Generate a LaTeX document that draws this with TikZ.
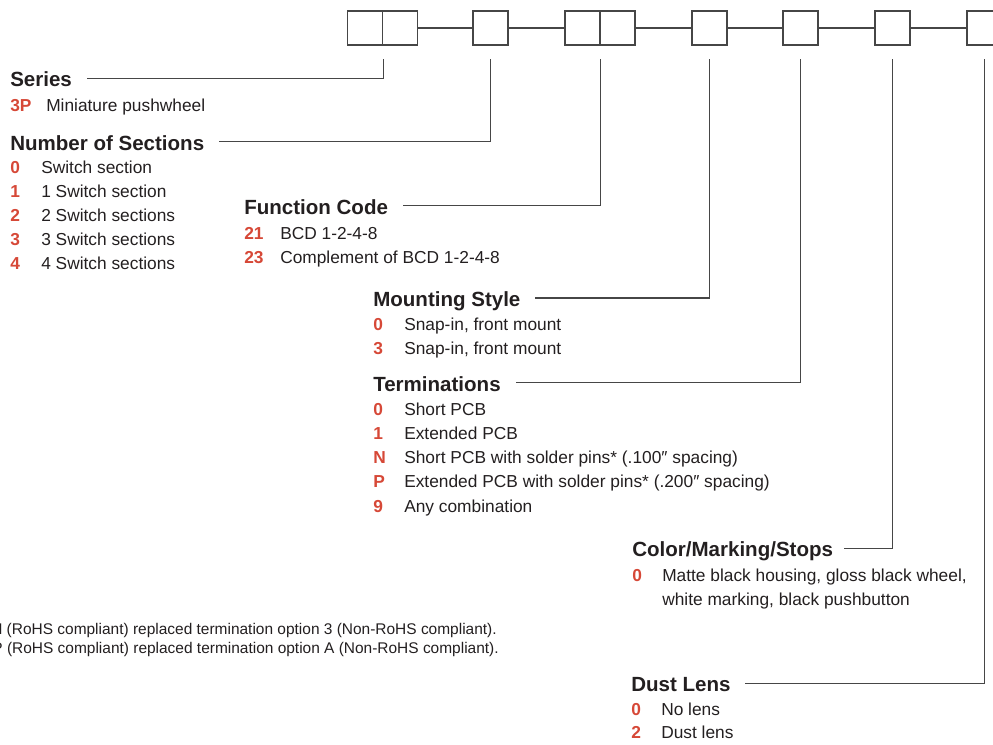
\documentclass[tikz,border=0pt]{standalone}
\usepackage{fontspec}
\setmainfont{Liberation Sans}
\definecolor{codered}{RGB}{214,72,55}
\definecolor{ink}{RGB}{35,31,32}
\definecolor{rulegray}{RGB}{70,70,70}

\begin{document}
\begin{tikzpicture}[x=0.75pt,y=0.75pt,yscale=-1,xscale=1,
  box/.style={draw=rulegray, line width=0.9pt, minimum width=26.25pt, minimum height=25.5pt, inner sep=0pt},
  leader/.style={draw=rulegray, line width=0.9pt},
  head/.style={anchor=base west, inner sep=0pt, text height=12.8pt, text depth=0pt, text=ink, font=\fontsize{15.4}{18}\selectfont\bfseries},
  optcode/.style={anchor=base west, inner sep=0pt, text=codered, font=\fontsize{13}{15}\selectfont\bfseries},
  optitem/.style={anchor=base west, inner sep=0pt, text=ink, font=\fontsize{13}{15}\selectfont},
  fnote/.style={anchor=base east, inner sep=0pt, text=ink, font=\fontsize{11.6}{13}\selectfont}]
\useasboundingbox (0,0) rectangle (993,744);

%Shape: Part number boxes
\node[box] (s1) at (365,28) {};
\node[box] (s2) at (400,28) {};
\node[box] (n1) at (490.5,28) {};
\node[box] (f1) at (582.5,28) {};
\node[box] (f2) at (617.5,28) {};
\node[box] (m1) at (709.5,28) {};
\node[box] (t1) at (800.5,28) {};
\node[box] (c1) at (892.5,28) {};
\node[box] (d1) at (984.5,28) {};
%Straight Lines: between boxes
\draw[leader] (s2) -- (n1);
\draw[leader] (n1) -- (f1);
\draw[leader] (f2) -- (m1);
\draw[leader] (m1) -- (t1);
\draw[leader] (t1) -- (c1);
\draw[leader] (c1) -- (d1);

% Text Node: Series
\node[head] (series) at (10,86.7) {Series};
\node[optcode] (series3p) at (10,111) {3P};
\node[optitem] (series3pt) at (46,111) {Miniature pushwheel};

% Text Node: Number of Sections
\node[head] (sections) at (10,150) {Number of Sections};
\node[optcode] (sec0) at (10,173.3) {0};
\node[optitem] (sec0t) at (41,173.3) {Switch section};
\node[optcode] (sec1) at (10,197.3) {1};
\node[optitem] (sec1t) at (41,197.3) {1 Switch section};
\node[optcode] (sec2) at (10,221.3) {2};
\node[optitem] (sec2t) at (41,221.3) {2 Switch sections};
\node[optcode] (sec3) at (10,245.3) {3};
\node[optitem] (sec3t) at (41,245.3) {3 Switch sections};
\node[optcode] (sec4) at (10,269.3) {4};
\node[optitem] (sec4t) at (41,269.3) {4 Switch sections};

% Text Node: Function Code
\node[head] (function) at (244,214.3) {Function Code};
\node[optcode] (fun21) at (244,239) {21};
\node[optitem] (fun21t) at (280,239) {BCD 1-2-4-8};
\node[optcode] (fun23) at (244,263) {23};
\node[optitem] (fun23t) at (280,263) {Complement of BCD 1-2-4-8};

% Text Node: Mounting Style
\node[head] (mounting) at (373,306.5) {Mounting Style};
\node[optcode] (mnt0) at (373,330.5) {0};
\node[optitem] (mnt0t) at (404,330.5) {Snap-in, front mount};
\node[optcode] (mnt3) at (373,354.5) {3};
\node[optitem] (mnt3t) at (404,354.5) {Snap-in, front mount};

% Text Node: Terminations
\node[head] (terminations) at (373,391) {Terminations};
\node[optcode] (ter0) at (373,415) {0};
\node[optitem] (ter0t) at (404,415) {Short PCB};
\node[optcode] (ter1) at (373,439.3) {1};
\node[optitem] (ter1t) at (404,439.3) {Extended PCB};
\node[optcode] (terN) at (373,463.5) {N};
\node[optitem] (terNt) at (404,463.5) {Short PCB with solder pins* (.100″ spacing)};
\node[optcode] (terP) at (373,487.7) {P};
\node[optitem] (terPt) at (404,487.7) {Extended PCB with solder pins* (.200″ spacing)};
\node[optcode] (ter9) at (373,512) {9};
\node[optitem] (ter9t) at (404,512) {Any combination};

% Text Node: Color/Marking/Stops
\node[head] (color) at (632,556.7) {Color/Marking/Stops};
\node[optcode] (col0) at (632,581.5) {0};
\node[optitem] (col0t) at (662,581.5) {Matte black housing, gloss black wheel,};
\node[optitem] (col0u) at (662,605.5) {white marking, black pushbutton};

% Text Node: Dust Lens
\node[head] (dust) at (631,691.7) {Dust Lens};
\node[optcode] (dst0) at (631,715) {0};
\node[optitem] (dst0t) at (661,715) {No lens};
\node[optcode] (dst2) at (631,738.5) {2};
\node[optitem] (dst2t) at (661,738.5) {Dust lens};

% Text Node: notes
\node[fnote] (noteN) at (497,634) {N (RoHS compliant) replaced termination option 3 (Non-RoHS compliant).};
\node[fnote] (noteP) at (499,653) {P (RoHS compliant) replaced termination option A (Non-RoHS compliant).};

%Straight Lines: leaders
\coordinate (tapline) at (0,59);
\draw[leader] (s1.south east |- tapline) |- ([xshift=11pt]series.east);
\draw[leader] (n1.south |- tapline) |- ([xshift=11pt]sections.east);
\draw[leader] (f1.south east |- tapline) |- ([xshift=11pt]function.east);
\draw[leader] (m1.south |- tapline) |- ([xshift=11pt]mounting.east);
\draw[leader] (t1.south |- tapline) |- ([xshift=11pt]terminations.east);
\draw[leader] (c1.south |- tapline) |- ([xshift=8pt]color.east);
\draw[leader] (d1.south |- tapline) |- ([xshift=11pt]dust.east);

\end{tikzpicture}
\end{document}
